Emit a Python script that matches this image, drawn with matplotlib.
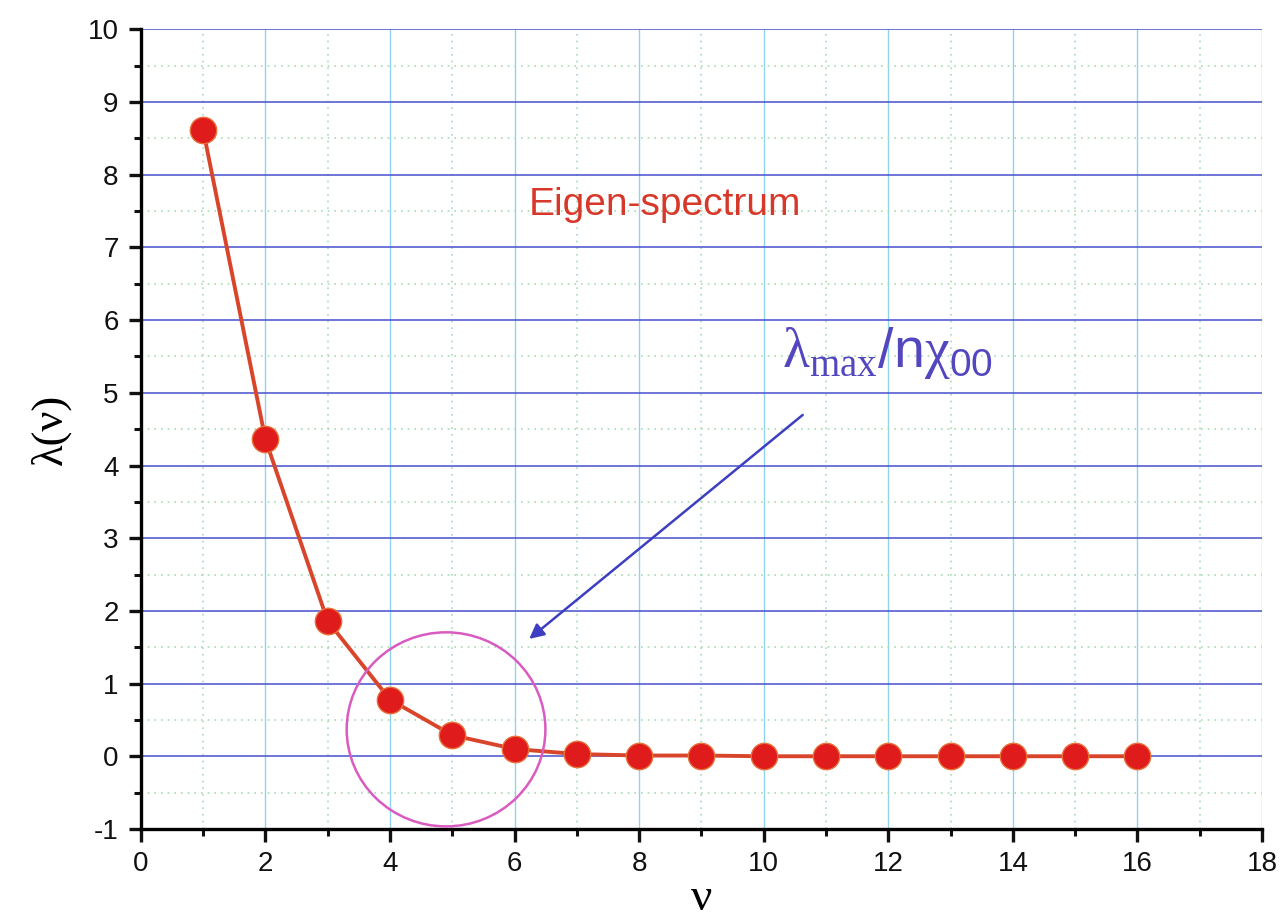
import matplotlib.pyplot as plt
from matplotlib.patches import Ellipse
from matplotlib.ticker import MultipleLocator

# eigenvalue spectrum
nu = [1, 2, 3, 4, 5, 6, 7, 8, 9, 10, 11, 12, 13, 14, 15, 16]
lam = [8.62, 4.36, 1.86, 0.78, 0.29, 0.10, 0.03, 0.01, 0.01, 0.0,
       0.0, 0.0, 0.0, 0.0, 0.0, 0.0]

plt.rcParams['font.family'] = ['Liberation Sans', 'DejaVu Sans']
plt.rcParams['mathtext.fontset'] = 'custom'
plt.rcParams['mathtext.rm'] = 'Liberation Serif'
plt.rcParams['mathtext.sf'] = 'Liberation Sans'
plt.rcParams['axes.unicode_minus'] = False

fig = plt.figure(figsize=(12.8, 9.19), dpi=100)
ax = fig.add_axes([0.110, 0.098, 0.876, 0.870])

ax.set_xlim(0, 18)
ax.set_ylim(-1, 10)
ax.xaxis.set_major_locator(MultipleLocator(2))
ax.xaxis.set_minor_locator(MultipleLocator(1))
ax.yaxis.set_major_locator(MultipleLocator(1))
ax.yaxis.set_minor_locator(MultipleLocator(0.5))

# grid: light dotted minor, coloured major
ax.grid(which='minor', axis='both', color='#a6dcb4', linestyle=(0, (1, 3)),
        linewidth=1.2, zorder=0)
ax.grid(which='major', axis='x', color='#8fd3ec', linewidth=1.0, zorder=0)
ax.grid(which='major', axis='y', color='#4650cc', linewidth=1.1, zorder=0)
ax.set_axisbelow(True)

for side in ['top', 'right']:
    ax.spines[side].set_visible(False)
for side in ['left', 'bottom']:
    ax.spines[side].set_linewidth(2.4)

ax.tick_params(which='major', length=9, width=2.4, labelsize=20, pad=7,
               colors='#111111')
ax.tick_params(which='minor', length=5, width=2.2, colors='#111111')

ax.plot(nu, lam, color='#d9452b', linewidth=2.8, marker='o',
        markersize=19, markerfacecolor='#e01b1b', markeredgecolor='#e8703a',
        markeredgewidth=1.0, zorder=3, clip_on=False)

ax.text(6.22, 7.58, 'Eigen-spectrum', color='#d8382a', fontsize=28,
        va='center')

ax.text(10.3, 5.35,
        r'$\mathrm{\lambda}_{\mathrm{max}}\mathsf{/n}\mathrm{\chi}_{\mathsf{00}}$',
        color='#5347bf', fontsize=40)

ax.annotate('', xy=(6.2, 1.59), xytext=(10.66, 4.72),
            arrowprops=dict(arrowstyle='-|>', color='#3d3fc0', lw=1.8,
                            mutation_scale=22))

ax.add_patch(Ellipse((4.9, 0.37), 3.19, 2.67, fill=False,
                     edgecolor='#d95bc0', linewidth=1.8, zorder=4))

ax.set_ylabel('λ(ν)', fontsize=32, family='Liberation Serif', labelpad=12)
ax.set_xlabel('ν', fontsize=34, family='Liberation Serif', labelpad=0)

fig.savefig('out.png', dpi=100, facecolor='white')
